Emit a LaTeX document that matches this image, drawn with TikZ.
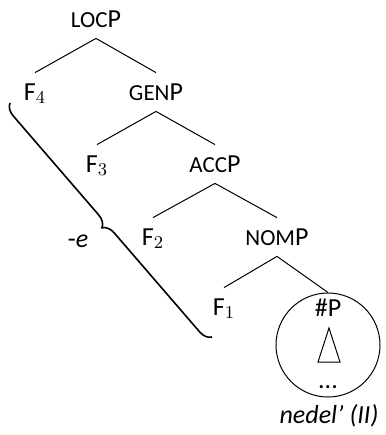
\documentclass[tikz,border=0pt]{standalone}
\usepackage{fontspec}
\setmainfont{Carlito}
\usetikzlibrary{decorations.pathreplacing}
\newcommand{\fsc}[1]{{\fontsize{11.5}{13}\selectfont #1}}

\begin{document}
\begin{tikzpicture}[x=0.5pt,y=0.5pt,
  every node/.style={font=\fontsize{13}{15}\selectfont},
  cat/.style={inner xsep=0pt,inner ysep=5.5pt,text height=8pt,text depth=0pt},
  branch/.style={line width=0.5pt}]
  \useasboundingbox (0,0) rectangle (386,-435);
  % tree
  \node[cat] (loc) at (96,-19) {\fsc{LOC}P};
  \node[cat] (f4) at (35,-92) {F$_4$};
  \node[cat] (gen) at (156,-92) {\fsc{GEN}P};
  \node[cat] (f3) at (97,-164) {F$_3$};
  \node[cat] (acc) at (215,-164) {\fsc{ACC}P};
  \node[cat] (f2) at (153,-237) {F$_2$};
  \node[cat] (nom) at (277,-237) {\fsc{NOM}P};
  \node[cat] (f1) at (224,-307) {F$_1$};
  \node[draw,circle,branch,minimum size=52pt,inner sep=0pt] (num) at (328,-345) {};
  \node[cat] (nump) at (328,-308) {\#P};
  \node[anchor=base] (dots) at (328,-388) {...};
  \draw[branch] ([shift={(1,17)}]num.center) -- ([shift={(-10,-17)}]num.center)
    -- ([shift={(12,-17)}]num.center) -- cycle;
  \draw[branch] (loc.south) -- (f4.north);
  \draw[branch] (loc.south) -- (gen.north);
  \draw[branch] (gen.south) -- (f3.north);
  \draw[branch] (gen.south) -- (acc.north);
  \draw[branch] (acc.south) -- (f2.north);
  \draw[branch] (acc.south) -- (nom.north);
  \draw[branch] (nom.south) -- (f1.north);
  \draw[branch] (nom.south) -- (num.north);
  % brace and labels
  \draw[thick,decorate,decoration={brace,amplitude=6pt}] (212,-337) -- (10,-103);
  \node (suffix) at (78,-241) {-\textit{e}};
  \node[anchor=base] (word) at (329,-423) {\textit{nedel’ (II)}};
\end{tikzpicture}
\end{document}
